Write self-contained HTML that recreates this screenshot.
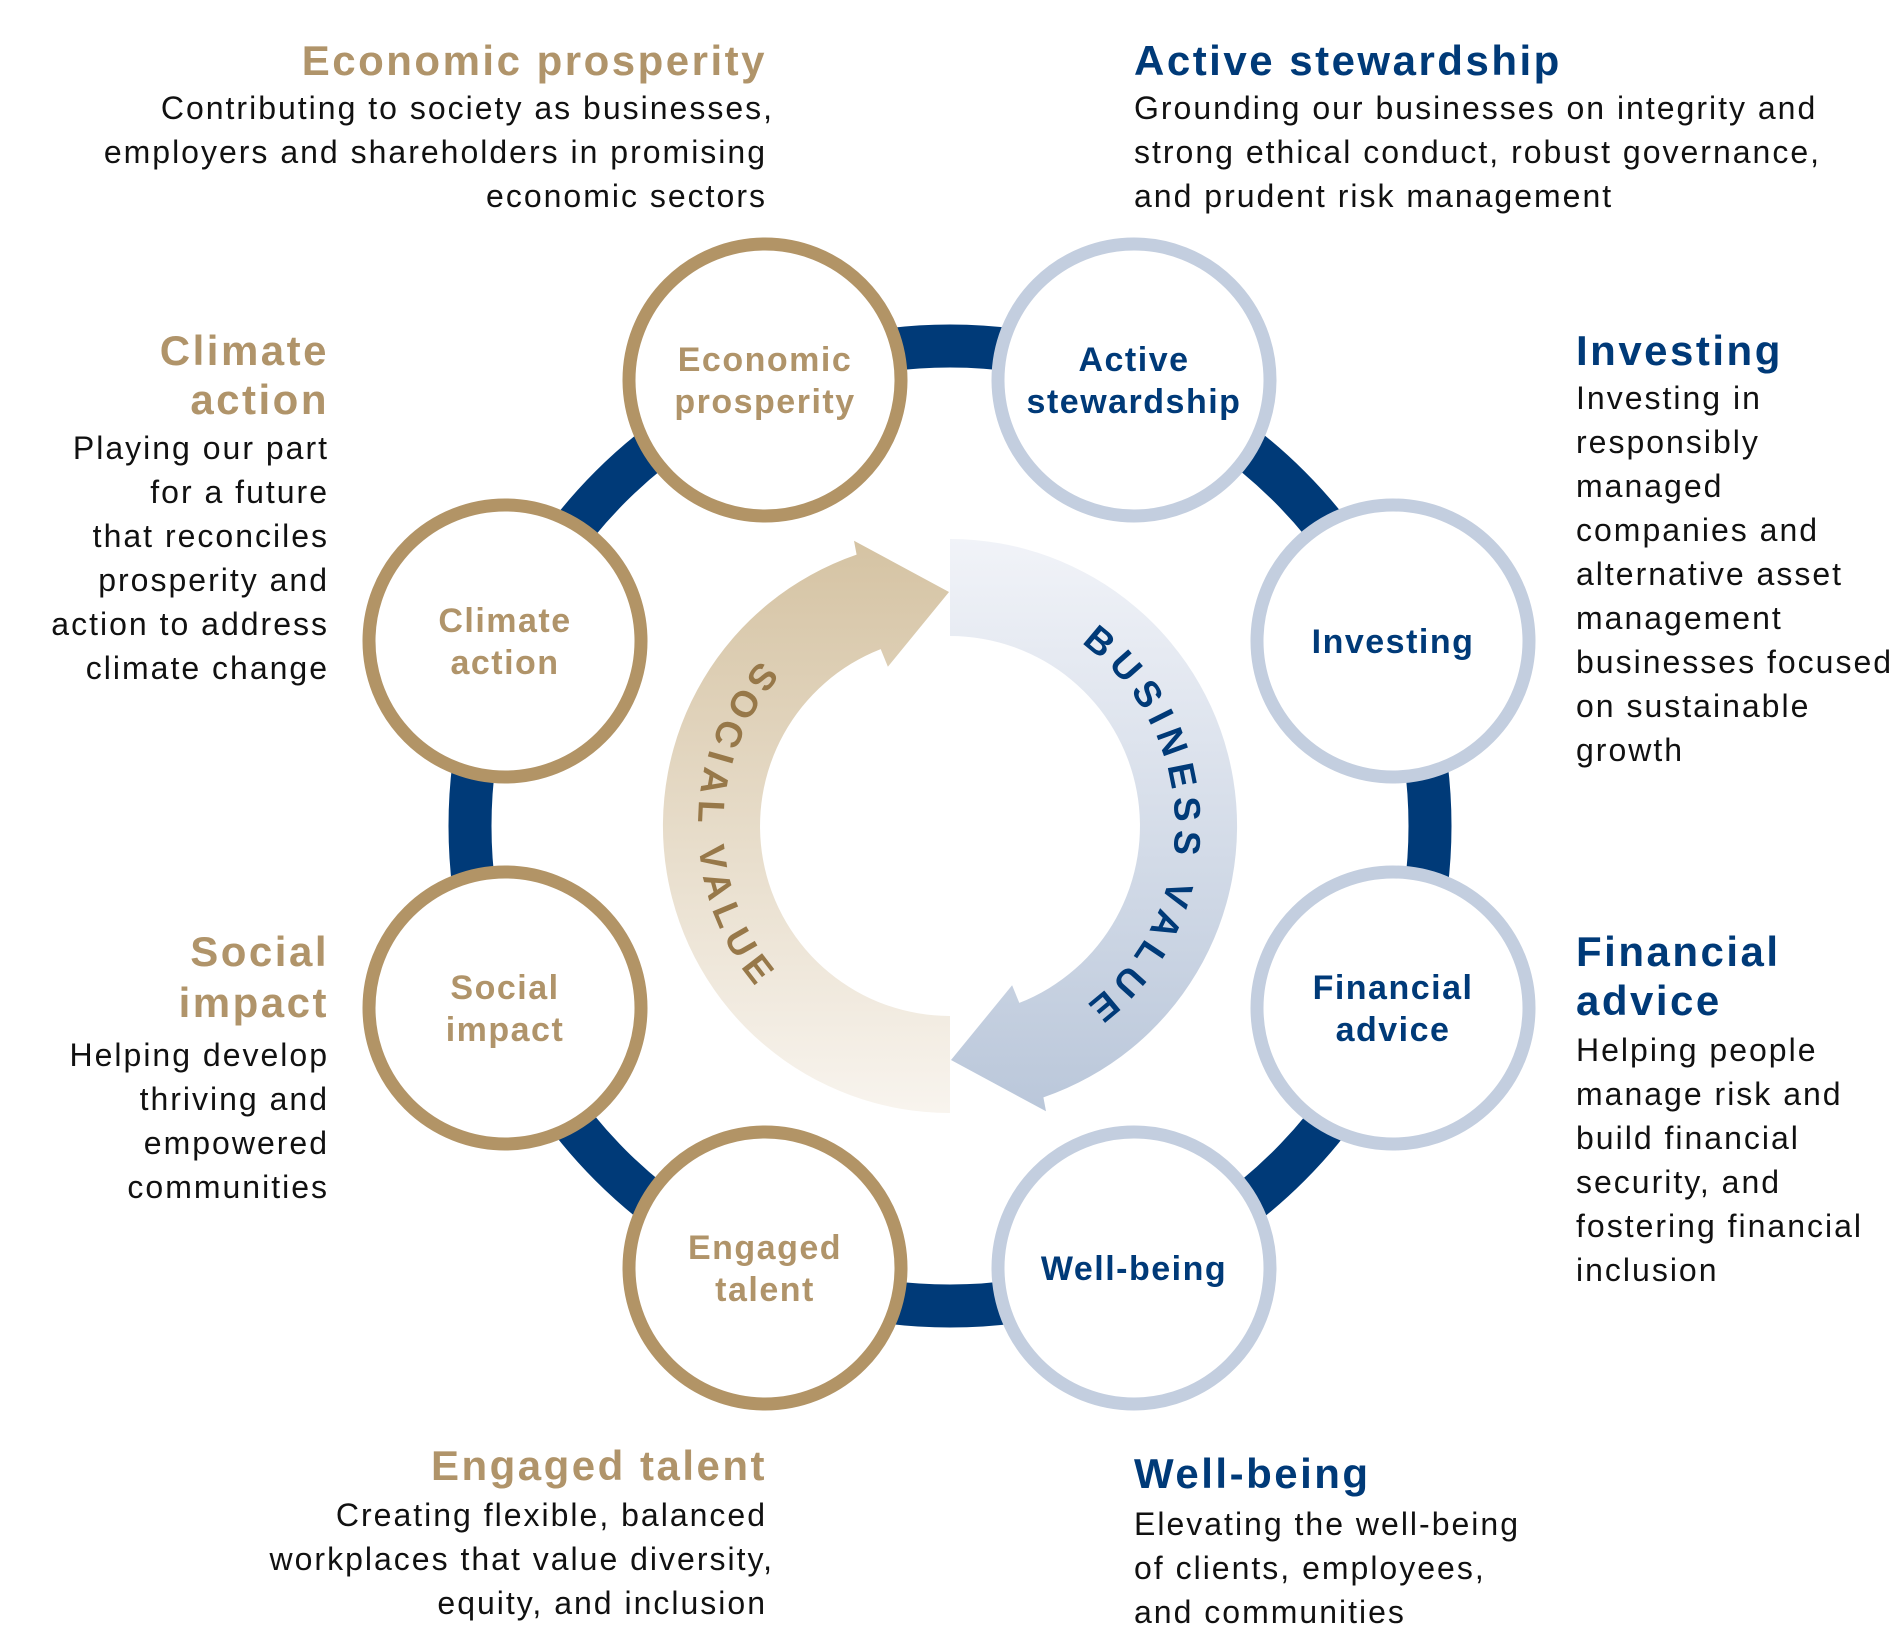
<!DOCTYPE html>
<html><head><meta charset="utf-8"><style>
html,body{margin:0;padding:0;background:#fff;}
svg{display:block;}
text{font-family:"Liberation Sans",sans-serif;}
.g{fill:#b0946a;}
.n{fill:#003a78;}
.b{fill:#111;font-size:32px;letter-spacing:2px;}
.t{font-size:42px;font-weight:bold;letter-spacing:2.5px;}
.c{font-size:34px;font-weight:bold;text-anchor:middle;letter-spacing:1.5px;}
</style></head><body>
<svg width="1900" height="1651" viewBox="0 0 1900 1651" xmlns="http://www.w3.org/2000/svg">
<defs>
<linearGradient id="bg" gradientUnits="userSpaceOnUse" x1="0" y1="544" x2="0" y2="1118">
<stop offset="0" stop-color="#f1f3f8"/><stop offset="1" stop-color="#bac7da"/></linearGradient>
<linearGradient id="sg" gradientUnits="userSpaceOnUse" x1="0" y1="545" x2="0" y2="1118">
<stop offset="0" stop-color="#d5c3a3"/><stop offset="1" stop-color="#f8f4ee"/></linearGradient>
<path id="bp" d="M955,606 A225,225 0 0 1 955,1056"/>
<path id="sp" d="M955,579 A252,252 0 0 0 955,1083"/>
</defs>
<g transform="translate(-5,-5)">
<circle cx="955" cy="831" r="480" fill="none" stroke="#003a78" stroke-width="43"/>
<path d="M955,544 A287,287 0 0 1 1048.4,1102.4 L1051,1116.3 L956,1065 L1017.1,990.3 L1024.3,1007.9 A190,190 0 0 0 955,641 Z" fill="url(#bg)"/>
<path d="M955,1118 A287,287 0 0 1 861.6,559.6 L859,545.7 L954,597 L892.9,671.7 L885.7,654.1 A190,190 0 0 0 955,1021 Z" fill="url(#sg)"/>
<text font-size="37" font-weight="bold" fill="#003a78" letter-spacing="7.5"><textPath href="#bp" startOffset="50%" text-anchor="middle">BUSINESS VALUE</textPath></text>
<text font-size="37" font-weight="bold" fill="#977849" letter-spacing="7.5"><textPath href="#sp" startOffset="50%" text-anchor="middle">SOCIAL VALUE</textPath></text>
<g fill="#fff" stroke-width="13">
<circle cx="770" cy="385" r="136" stroke="#b29466"/>
<circle cx="510" cy="646" r="136" stroke="#b29466"/>
<circle cx="510" cy="1013" r="136" stroke="#b29466"/>
<circle cx="770" cy="1273" r="136" stroke="#b29466"/>
<circle cx="1139" cy="385" r="136" stroke="#c3cedf"/>
<circle cx="1398" cy="646" r="136" stroke="#c3cedf"/>
<circle cx="1398" cy="1013" r="136" stroke="#c3cedf"/>
<circle cx="1139" cy="1273" r="136" stroke="#c3cedf"/>
</g>
<text class="c g" x="770" y="376">Economic</text><text class="c g" x="770" y="418">prosperity</text>
<text class="c g" x="510" y="637">Climate</text><text class="c g" x="510" y="679">action</text>
<text class="c g" x="510" y="1004">Social</text><text class="c g" x="510" y="1046">impact</text>
<text class="c g" x="770" y="1264">Engaged</text><text class="c g" x="770" y="1306">talent</text>
<text class="c n" x="1139" y="376">Active</text><text class="c n" x="1139" y="418">stewardship</text>
<text class="c n" x="1398" y="658">Investing</text>
<text class="c n" x="1398" y="1004">Financial</text><text class="c n" x="1398" y="1046">advice</text>
<text class="c n" x="1139" y="1285">Well-being</text>
</g>

<g text-anchor="end">
<text class="t g" x="767" y="75">Economic prosperity</text>
<text class="b" x="774" y="119">Contributing to society as businesses,</text>
<text class="b" x="767" y="163">employers and shareholders in promising</text>
<text class="b" x="767" y="207">economic sectors</text>

<text class="t g" x="329" y="365">Climate</text>
<text class="t g" x="329" y="414">action</text>
<text class="b" x="329" y="459">Playing our part</text>
<text class="b" x="329" y="503">for a future</text>
<text class="b" x="329" y="547">that reconciles</text>
<text class="b" x="329" y="591">prosperity and</text>
<text class="b" x="329" y="635">action to address</text>
<text class="b" x="329" y="679">climate change</text>

<text class="t g" x="329" y="966">Social</text>
<text class="t g" x="329" y="1017">impact</text>
<text class="b" x="329" y="1066">Helping develop</text>
<text class="b" x="329" y="1110">thriving and</text>
<text class="b" x="329" y="1154">empowered</text>
<text class="b" x="329" y="1198">communities</text>

<text class="t g" x="767" y="1480">Engaged talent</text>
<text class="b" x="767" y="1526">Creating flexible, balanced</text>
<text class="b" x="774" y="1570">workplaces that value diversity,</text>
<text class="b" x="767" y="1614">equity, and inclusion</text>
</g>

<text class="t n" x="1134" y="75">Active stewardship</text>
<text class="b" x="1134" y="119">Grounding our businesses on integrity and</text>
<text class="b" x="1134" y="163">strong ethical conduct, robust governance,</text>
<text class="b" x="1134" y="207">and prudent risk management</text>

<text class="t n" x="1576" y="365">Investing</text>
<text class="b" x="1576" y="409">Investing in</text>
<text class="b" x="1576" y="453">responsibly</text>
<text class="b" x="1576" y="497">managed</text>
<text class="b" x="1576" y="541">companies and</text>
<text class="b" x="1576" y="585">alternative asset</text>
<text class="b" x="1576" y="629">management</text>
<text class="b" x="1576" y="673">businesses focused</text>
<text class="b" x="1576" y="717">on sustainable</text>
<text class="b" x="1576" y="761">growth</text>

<text class="t n" x="1576" y="966">Financial</text>
<text class="t n" x="1576" y="1015">advice</text>
<text class="b" x="1576" y="1061">Helping people</text>
<text class="b" x="1576" y="1105">manage risk and</text>
<text class="b" x="1576" y="1149">build financial</text>
<text class="b" x="1576" y="1193">security, and</text>
<text class="b" x="1576" y="1237">fostering financial</text>
<text class="b" x="1576" y="1281">inclusion</text>

<text class="t n" x="1134" y="1488">Well-being</text>
<text class="b" x="1134" y="1535">Elevating the well-being</text>
<text class="b" x="1134" y="1579">of clients, employees,</text>
<text class="b" x="1134" y="1623">and communities</text>
</svg>
</body></html>
